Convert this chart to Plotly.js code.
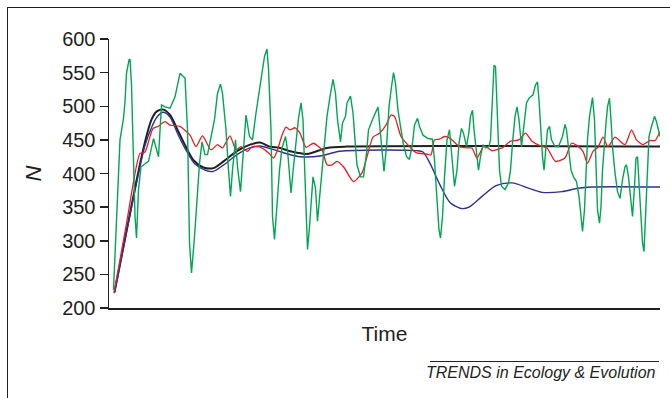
<!DOCTYPE html>
<html>
<head>
<meta charset="utf-8">
<script src="https://cdn.plot.ly/plotly-3.0.1.min.js"></script>
<style>
  html, body { margin: 0; padding: 0; background: #fff; }
  #wrap { position: relative; width: 670px; height: 398px; overflow: hidden; }
  #chart { position: absolute; left: 0; top: 0; width: 670px; height: 398px; }
  #frame { position: absolute; left: 7px; top: 7px; width: 700px; height: 420px;
           border-left: 1px solid #231f20; border-top: 1px solid #231f20; pointer-events: none; }
</style>
</head>
<body>
<div id="wrap">
  <div id="chart"></div>
  <div id="frame"></div>
</div>
<script>
// ---- Data (time in arbitrary units, N = population size) ----
const blackTime = [5.9, 10.2, 12.0, 13.3, 14.3, 15.7, 17.0, 18.7, 20.3, 21.7,
                   23.7, 25.7, 27.7, 30.3, 33.0, 35.0, 37.0, 39.0, 41.0, 42.4,
                   44.4, 48.4, 52.4, 115.0];
const blackN    = [224, 386, 447, 480, 492, 495, 487, 462, 438, 420,
                   409, 408, 418, 433, 443, 446, 440, 438, 433, 431,
                   429, 438, 440, 440];

const blueTime = [5.9, 10.2, 12.0, 13.4, 14.4, 15.6, 17.0, 18.6, 20.4, 22.0,
                  24.0, 25.6, 27.6, 30.4, 33.0, 35.0, 37.0, 38.4, 41.0, 43.0,
                  47.0, 51.0, 66.2, 67.6, 69.0, 71.0, 73.0, 75.2, 76.8, 79.4,
                  82.2, 85.4, 88.8, 91.4, 95.4, 98.6, 101.4, 115.0];
const blueN    = [222, 382, 442, 470, 484, 491, 484, 458, 432, 414,
                  405, 403, 412, 428, 438, 441, 437, 434, 428, 425,
                  426, 433, 434, 432, 415, 383, 357, 348, 350, 366,
                  382, 386, 378, 372, 373, 378, 380, 380];

const redTime = [5.8, 8.4, 11.0, 12.0, 12.8, 13.6, 14.6, 16.0, 17.0, 19.0,
                 21.0, 22.2, 23.5, 25.2, 26.5, 27.5, 29.0, 30.2, 31.2, 32.5,
                 33.5, 35.2, 36.8, 37.7, 38.4, 39.4, 40.2, 41.0, 42.0, 43.0,
                 44.2, 45.7, 47.4, 48.4, 49.4, 50.4, 51.7, 53.7, 55.4, 56.4,
                 57.6, 58.9, 60.2, 61.2, 61.9, 63.2, 64.9, 66.2, 68.2, 69.2,
                 69.9, 70.9, 71.9, 72.9, 74.9, 76.6, 77.4, 78.4, 79.8, 81.4,
                 83.4, 85.1, 86.8, 88.1, 89.4, 91.1, 92.4, 94.1, 96.0, 97.3,
                 98.7, 99.6, 100.5, 101.6, 102.6, 103.6, 104.6, 106.0, 108.0, 109.3,
                 110.3, 111.6, 113.0, 114.0, 115.0];
const redN    = [222, 330, 430, 432, 450, 467, 470, 477, 472, 470,
                 457, 440, 456, 435, 443, 438, 456, 435, 440, 433,
                 440, 439, 430, 423, 433, 457, 469, 465, 468, 460,
                 439, 445, 435, 413, 413, 418, 410, 388, 401, 425,
                 454, 460, 472, 487, 485, 455, 440, 431, 429, 428,
                 450, 451, 455, 453, 440, 438, 438, 423, 441, 434,
                 438, 448, 450, 460, 448, 441, 438, 418, 423, 445,
                 440, 433, 415, 433, 439, 454, 440, 454, 443, 465,
                 450, 443, 449, 449, 462];

const greenTime = [5.7, 6.7, 7.0, 7.7, 8.0, 8.3, 8.8, 9.0, 9.3, 10.0,
                   10.3, 10.7, 11.2, 12.7, 13.7, 14.7, 15.3, 16.0, 17.0, 18.0,
                   19.0, 20.0, 20.5, 20.9, 21.3, 21.9, 22.4, 22.9, 23.4, 24.0,
                   24.5, 25.2, 25.9, 26.5, 27.1, 27.5, 28.2, 28.7, 29.1, 29.5,
                   30.1, 30.5, 31.1, 31.5, 32.2, 32.9, 33.5, 34.2, 35.2, 35.9,
                   36.4, 36.7, 37.2, 37.5, 37.9, 38.4, 38.9, 39.4, 40.1, 40.5,
                   40.9, 41.2, 41.7, 42.3, 42.7, 43.2, 43.6, 43.9, 44.3, 44.5,
                   44.9, 45.3, 45.6, 46.1, 46.5, 46.9, 47.4, 47.9, 48.4, 49.1,
                   49.6, 50.1, 50.5, 51.1, 51.5, 52.1, 52.4, 53.1, 53.6, 54.1,
                   54.4, 55.1, 55.7, 56.3, 56.7, 57.6, 58.6, 58.9, 59.5, 59.8,
                   60.3, 60.8, 61.3, 61.7, 62.1, 62.6, 63.1, 63.7, 64.3, 64.9,
                   65.5, 65.9, 66.5, 66.9, 67.6, 68.6, 69.5, 69.9, 70.4, 70.8,
                   71.1, 71.5, 71.9, 72.4, 72.9, 73.3, 73.6, 73.9, 74.4, 74.8,
                   75.3, 75.7, 76.3, 76.8, 77.1, 77.5, 77.8, 78.3, 78.7, 79.1,
                   79.6, 80.1, 80.8, 81.1, 81.5, 81.8, 82.1, 82.5, 82.9, 83.3,
                   84.0, 84.7, 85.1, 85.5, 86.0, 86.4, 86.8, 87.3, 87.8, 88.3,
                   88.8, 89.6, 90.1, 90.5, 90.8, 91.1, 91.5, 91.8, 92.1, 92.5,
                   92.9, 93.3, 94.0, 94.7, 95.5, 96.0, 96.3, 96.8, 97.2, 97.7,
                   98.3, 98.8, 99.2, 99.5, 99.9, 100.2, 100.5, 100.9, 101.3, 101.5,
                   101.9, 102.2, 102.5, 102.9, 103.2, 103.5, 103.9, 104.2, 104.5, 104.9,
                   105.2, 105.5, 106.0, 106.5, 107.0, 107.5, 108.0, 108.3, 108.7, 109.2,
                   109.5, 109.9, 110.2, 110.5, 110.9, 111.2, 111.5, 111.8, 112.1, 112.5,
                   112.8, 113.3, 113.9, 114.3, 114.7, 115.0];
const greenN    = [227, 400, 450, 482, 507, 549, 569, 570, 532, 336,
                   304, 376, 410, 418, 452, 425, 502, 499, 497, 514,
                   549, 542, 465, 297, 252, 306, 358, 415, 447, 428,
                   428, 455, 480, 519, 533, 519, 465, 405, 366, 405,
                   450, 410, 373, 415, 487, 455, 450, 490, 539, 574,
                   585, 556, 465, 336, 302, 350, 405, 438, 455, 435,
                   395, 371, 410, 455, 482, 505, 480, 415, 316, 287,
                   321, 366, 395, 378, 329, 363, 405, 450, 485, 519,
                   540, 519, 480, 447, 475, 485, 505, 515, 490, 440,
                   413, 395, 395, 430, 465, 482, 499, 475, 425, 403,
                   440, 499, 529, 550, 534, 494, 470, 443, 425, 421,
                   445, 472, 482, 470, 457, 452, 451, 420, 361, 316,
                   304, 336, 395, 450, 465, 435, 410, 381, 405, 445,
                   467, 460, 440, 462, 485, 494, 465, 435, 405, 425,
                   443, 438, 440, 450, 514, 561, 559, 490, 405, 381,
                   376, 386, 405, 445, 485, 499, 480, 440, 475, 505,
                   512, 517, 532, 536, 509, 465, 425, 405, 435, 465,
                   470, 450, 440, 440, 455, 473, 465, 435, 405, 395,
                   388, 366, 336, 314, 346, 401, 450, 485, 505, 513,
                   480, 415, 346, 326, 351, 405, 450, 475, 499, 512,
                   480, 440, 401, 373, 363, 391, 410, 413, 395, 356,
                   336, 381, 423, 425, 376, 336, 297, 284, 336, 405,
                   455, 470, 485, 477, 465, 455];

const yTicks = [200, 250, 300, 350, 400, 450, 500, 550, 600];
const xTitle = 'Time';
const yTitle = 'N';
const credit = 'TRENDS in Ecology & Evolution';

// ---- Styles ----
const ink = '#231f20';
const FONT = 'Liberation Sans, Arial, Helvetica, sans-serif';

const traces = [
  { x: blackTime, y: blackN, type: 'scatter', mode: 'lines', name: 'black',
    line: { color: ink, width: 2, shape: 'spline', smoothing: 0.8 } },
  { x: blueTime, y: blueN, type: 'scatter', mode: 'lines', name: 'blue',
    line: { color: '#2e3192', width: 1.4, shape: 'spline', smoothing: 0.8 } },
  { x: redTime, y: redN, type: 'scatter', mode: 'lines', name: 'red',
    line: { color: '#ed1c24', width: 1.3, shape: 'spline', smoothing: 0.6 } },
  { x: greenTime, y: greenN, type: 'scatter', mode: 'lines', name: 'green',
    line: { color: '#00a651', width: 1.4 } }
];

const layout = {
  width: 670, height: 398,
  margin: { l: 109, r: 10, t: 39, b: 90, pad: 0 },
  paper_bgcolor: '#ffffff', plot_bgcolor: '#ffffff',
  showlegend: false,
  font: { family: FONT, color: ink },
  xaxis: {
    range: [4.8, 115], showgrid: false, zeroline: false,
    showline: true, linecolor: ink, linewidth: 1.5,
    ticks: '', showticklabels: false,
    title: { text: xTitle, font: { family: FONT, size: 21, color: ink }, standoff: 18 },
    automargin: false
  },
  yaxis: {
    range: [200, 600], tickvals: yTicks, ticktext: yTicks.map(String),
    showgrid: false, zeroline: false,
    showline: true, linecolor: ink, linewidth: 1.5,
    ticks: 'outside', ticklen: 8, tickwidth: 1.5, tickcolor: ink,
    tickfont: { family: FONT, size: 20, color: ink },
    title: { text: '<i>' + yTitle + '</i>', font: { family: FONT, size: 22, color: ink }, standoff: 14 },
    automargin: false
  },
  annotations: [{
    text: '<i>' + credit + '</i>', xref: 'paper', yref: 'paper',
    x: 0.9964, y: -0.238, xanchor: 'right', yanchor: 'middle',
    showarrow: false, font: { family: FONT, size: 16, color: ink }
  }],
  shapes: [{
    type: 'line', xref: 'paper', yref: 'paper',
    x0: 0.5826, x1: 0.9982, y0: -0.199, y1: -0.199,
    line: { color: ink, width: 1 }
  }]
};

Plotly.newPlot('chart', traces, layout, { staticPlot: true, displayModeBar: false });
</script>
</body>
</html>
